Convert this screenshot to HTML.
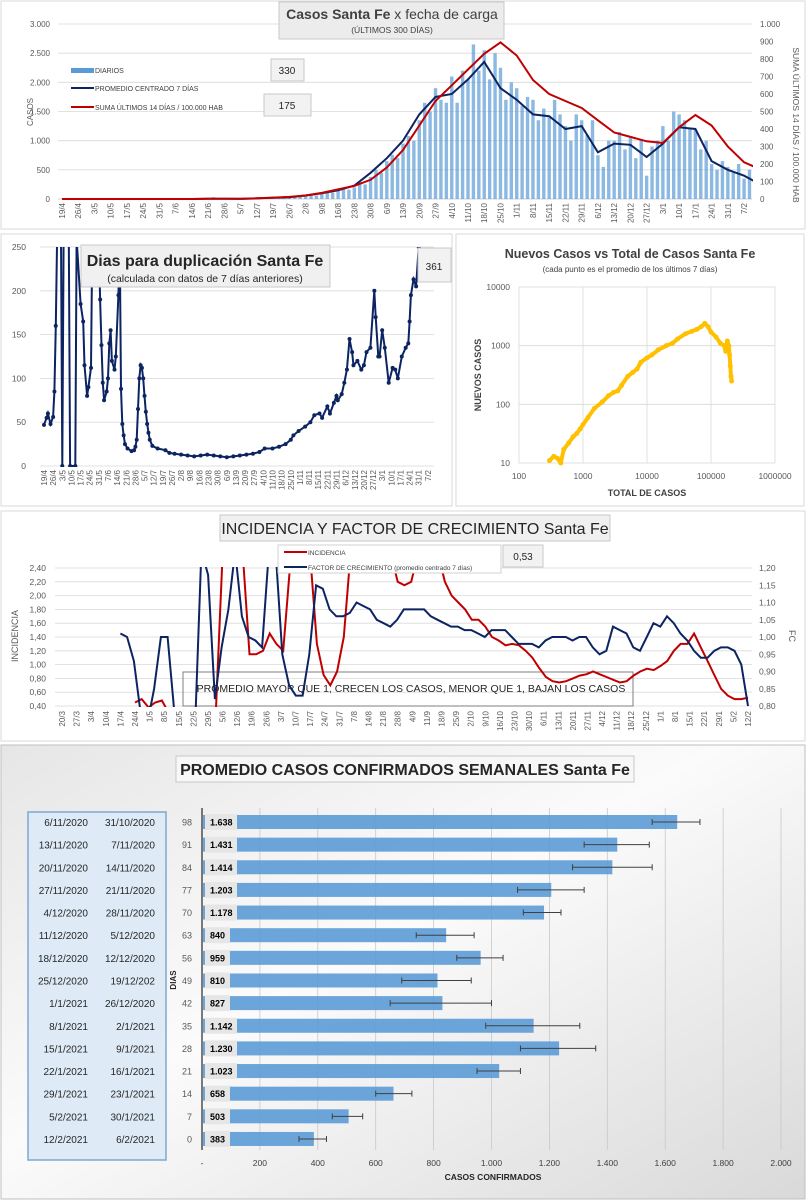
<!DOCTYPE html>
<html><head><meta charset="utf-8">
<style>
html,body{margin:0;padding:0;background:#fff;}
svg{display:block;font-family:"Liberation Sans Narrow","Liberation Sans",sans-serif;}
</style></head>
<body>
<svg id="s" width="806" height="1200" viewBox="0 0 806 1200" xmlns="http://www.w3.org/2000/svg">
<defs>
<linearGradient id="bg5" x1="0" y1="0" x2="1" y2="1">
<stop offset="0" stop-color="#e6e6e6"/><stop offset="0.45" stop-color="#fbfbfb"/><stop offset="1" stop-color="#d9d9d9"/>
</linearGradient>
<clipPath id="cp1"><rect x="58" y="20" width="695" height="180"/></clipPath>
<clipPath id="cp2"><rect x="40" y="247" width="400" height="220"/></clipPath>
<clipPath id="cp4"><rect x="55" y="567" width="697" height="140"/></clipPath>
</defs>
</svg>
<script>
// ---------- DATA ----------
const weekLabels1 = ["19/4","26/4","3/5","10/5","17/5","24/5","31/5","7/6","14/6","21/6","28/6","5/7","12/7","19/7","26/7","2/8","9/8","16/8","23/8","30/8","6/9","13/9","20/9","27/9","4/10","11/10","18/10","25/10","1/11","8/11","15/11","22/11","29/11","6/12","13/12","20/12","27/12","3/1","10/1","17/1","24/1","31/1","7/2"];
const leftTicks1 = ["0","500","1.000","1.500","2.000","2.500","3.000"];
const rightTicks1 = ["0","100","200","300","400","500","600","700","800","900","1.000"];
const dailyCases = [0,0,0, 0,0,0, 0,0,0, 0,0,0, 0,0,0, 0,0,0, 0,0,0, 0,0,0, 0,0,0, 10,30,5, 0,0,0, 0,0,0, 10,15,20, 20,25,30, 30,40,35, 50,70,60, 90,120,110, 140,170,160, 200,290,250, 380,500,450, 650,760,700, 950,1080,1000, 1350,1650,1500, 1900,1700,1650, 2100,1650,2200, 2050,2650,2200, 2550,2050,2500, 2250,1700,2000, 1900,1600,1750, 1700,1350,1550, 1400,1700,1450, 1250,1000,1450, 1350,1100,1350, 750,550,1000, 1000,1150,850, 1050,700,1000, 400,900,1000, 1250,1000,1500, 1450,1350,1200, 1200,850,1000, 600,500,650, 550,450,600, 350,500,300];
const avgCases = [0,0,0,0,0,0,0,0,0,5,3,2,10,20,30,60,100,150,230,450,700,1000,1450,1750,1800,2050,2350,1900,1700,1450,1420,1200,1250,800,950,930,720,950,1230,1200,650,500,400,250];
const sum14 = [0,0,0,0,0,0,0,0,0,2,2,2,4,8,12,20,35,55,75,110,180,280,420,560,650,740,830,895,820,680,600,560,520,450,380,355,330,320,410,480,420,300,210,170];

const dupDates = [0,2,3,5,7,8,9,10,12,13,14,15,19,20,24,25,28,30,31,33,34,36,37,42,43,44,45,46,48,49,50,51,52,54,55,57,58,59,60,61,62,64,67,69,70,71,72,73,74,75,76,77,78,79,80,81,83,87,93,96,100,105,110,115,120,125,130,135,140,145,150,155,160,165,169,175,180,185,189,191,195,200,204,207,211,213,217,219,222,224,225,228,230,232,234,236,237,240,243,245,247,250,253,254,256,257,259,261,264,267,269,271,274,277,279,280,281,283,285,287];
const dupDays = [47,55,60,48,56,85,160,260,260,260,0,260,260,0,0,260,185,165,115,80,90,112,260,260,190,138,95,75,85,100,140,155,120,110,125,195,260,88,48,35,25,20,17,18,22,30,65,100,115,112,100,80,62,48,38,30,23,20,18,15,14,13,12,11,12,13,12,11,10,11,12,13,14,16,20,20,22,25,30,35,40,45,50,58,60,55,68,60,72,80,75,82,95,110,145,130,115,120,110,115,130,135,200,170,125,125,155,135,95,112,110,100,125,135,140,165,195,213,205,250];
const dupTicks = ["0","50","100","150","200","250"];

const totalCases = [300,350,400,450,500,600,700,800,900,1000,1200,1500,2000,2500,3000,3500,4000,5000,6000,7000,8000,10000,12000,15000,20000,25000,30000,40000,50000,60000,70000,80000,90000,100000,120000,140000,160000,170000,180000,190000,195000,200000,205000,210000];
const newCases = [11,13,12,10,17,22,28,32,38,45,60,85,110,140,160,170,210,300,350,400,520,620,700,850,1000,1100,1300,1600,1750,1900,2100,2400,2100,1700,1400,1100,1000,800,1200,1000,700,450,300,250];
const logXTicks = ["100","1000","10000","100000","1000000"];
const logYTicks = ["10","100","1000","10000"];

const weekLabels4 = ["20/3","27/3","3/4","10/4","17/4","24/4","1/5","8/5","15/5","22/5","29/5","5/6","12/6","19/6","26/6","3/7","10/7","17/7","24/7","31/7","7/8","14/8","21/8","28/8","4/9","11/9","18/9","25/9","2/10","9/10","16/10","23/10","30/10","6/11","13/11","20/11","27/11","4/12","11/12","18/12","25/12","1/1","8/1","15/1","22/1","29/1","5/2","12/2"];
const incTicks = ["0,40","0,60","0,80","1,00","1,20","1,40","1,60","1,80","2,00","2,20","2,40"];
const fcTicks = ["0,80","0,85","0,90","0,95","1,00","1,05","1,10","1,15","1,20"];
const growthFactor = [1.01,1.0,0.93,0.78,0.75,0.85,1.0,1.0,0.78,0.7,0.7,0.7,1.25,1.18,0.82,0.97,1.08,1.25,1.06,1.0,0.99,0.97,1.25,1.25,0.95,0.86,0.83,0.83,0.95,1.15,1.14,1.08,1.06,1.06,1.07,1.1,1.09,1.08,1.05,1.04,1.03,1.05,1.08,1.08,1.08,1.08,1.06,1.05,1.04,1.03,1.03,1.02,1.02,1.01,1.0,1.02,1.02,1.02,1.0,0.98,0.98,0.98,0.97,0.99,1.0,1.0,1.0,0.99,1.0,1.0,0.97,0.95,0.96,1.03,1.02,1.01,0.97,0.96,1.0,1.04,1.03,1.06,1.04,1.01,0.99,0.96,0.94,0.94,0.96,0.97,0.97,0.96,0.92,0.8];
const incidence = [0.45,0.5,0.38,0.45,0.48,0.3,0.3,0.3,0.3,0.3,0.3,0.3,0.3,2.6,2.6,2.6,2.6,1.15,1.15,1.2,1.45,1.3,1.2,2.4,2.6,2.6,2.6,1.3,0.85,0.7,0.9,1.4,2.6,2.6,2.6,2.6,2.6,2.6,2.6,2.2,2.15,2.2,2.6,2.6,2.6,2.6,2.2,2.0,1.9,1.8,1.65,1.65,1.55,1.4,1.35,1.28,1.3,1.28,1.2,1.1,0.95,0.82,0.76,0.74,0.76,0.8,0.84,0.86,0.9,0.86,0.82,0.78,0.74,0.76,0.84,0.9,0.94,0.92,0.98,1.05,1.2,1.3,1.3,1.45,1.25,1.05,0.85,0.65,0.55,0.5,0.5,0.52];

const weekDays = ["98","91","84","77","70","63","56","49","42","35","28","21","14","7","0"];
const weekEnd = ["6/11/2020","13/11/2020","20/11/2020","27/11/2020","4/12/2020","11/12/2020","18/12/2020","25/12/2020","1/1/2021","8/1/2021","15/1/2021","22/1/2021","29/1/2021","5/2/2021","12/2/2021"];
const weekStart = ["31/10/2020","7/11/2020","14/11/2020","21/11/2020","28/11/2020","5/12/2020","12/12/2020","19/12/202","26/12/2020","2/1/2021","9/1/2021","16/1/2021","23/1/2021","30/1/2021","6/2/2021"];
const weeklyAvg = [1638,1431,1414,1203,1178,840,959,810,827,1142,1230,1023,658,503,383];
const weeklyLabel = ["1.638","1.431","1.414","1.203","1.178","840","959","810","827","1.142","1.230","1.023","658","503","383"];
const errLow = [1555,1320,1280,1090,1110,740,880,690,650,980,1100,950,600,450,335];
const errHigh = [1720,1545,1555,1320,1240,940,1040,930,1000,1305,1360,1100,725,555,430];
const barTicks = ["-","200","400","600","800","1.000","1.200","1.400","1.600","1.800","2.000"];

// ---------- helpers ----------
const S = document.getElementById('s');
const NS = 'http://www.w3.org/2000/svg';
function mk(tag, attrs, parent, txt){
  const e = document.createElementNS(NS, tag);
  for (const k in attrs) e.setAttribute(k, attrs[k]);
  if (txt !== undefined) e.textContent = txt;
  (parent || S).appendChild(e);
  return e;
}
function grp(name, clip){
  const g = mk('g', clip ? {'clip-path':'url(#'+clip+')'} : {});
  
  
  return g;
}
function pts(arr){ return arr.map(p => p[0].toFixed(1)+','+p[1].toFixed(1)).join(' '); }

// ---------- PANEL 1 ----------
const p1 = grp('cases-chart-panel');
mk('rect',{x:1,y:1,width:804,height:228,fill:'#fff',stroke:'#d9d9d9'},p1);
const x1 = d => 62 + d*(16.24/7);
const yL1 = v => 199 - v/3000*175;
const yR1 = v => 199 - v/1000*175;
const g1grid = grp('cases-gridlines');
leftTicks1.forEach((t,i)=>{
  const y = yL1(i*500);
  mk('line',{x1:58,x2:752,y1:y,y2:y,stroke:'#d9d9d9','stroke-width':0.8},g1grid);
  const tx = mk('text',{x:50,y:y+3,'font-size':8,fill:'#595959','text-anchor':'end'},g1grid,t);
  
  
});
rightTicks1.forEach((t,i)=>{
  const tx = mk('text',{x:760,y:yR1(i*100)+3,'font-size':8,fill:'#595959'},g1grid,t);
  
  
});
weekLabels1.forEach((t,i)=>{
  const x = x1(i*7);
  const tx = mk('text',{x:0,y:0,'font-size':8,fill:'#595959','text-anchor':'end',transform:`translate(${x+3},203) rotate(-90)`},g1grid,t);
  
  
});
const g1bars = grp('daily-bars','cp1');
dailyCases.forEach((v,i)=>{
  const x = x1(i*7/3);
  const b = mk('rect',{x:x-1.7,y:yL1(v),width:3.4,height:199-yL1(v),fill:'#5b9bd5','fill-opacity':0.7},g1bars);
  
  
});
const g1lines = grp('cases-lines','cp1');
let l = mk('polyline',{points:pts(avgCases.map((v,i)=>[x1(i*7),yL1(v)])),fill:'none',stroke:'#0c2461','stroke-width':2},g1lines);


l = mk('polyline',{points:pts(sum14.map((v,i)=>[x1(i*7),yR1(v)])),fill:'none',stroke:'#c00000','stroke-width':2},g1lines);


mk('line',{x1:58,x2:752,y1:199,y2:199,stroke:'#bfbfbf'},p1);
let t = mk('text',{x:0,y:0,'font-size':8,fill:'#595959','text-anchor':'middle',transform:'translate(33,112) rotate(-90)'},p1,'CASOS');


t = mk('text',{x:0,y:0,'font-size':8.5,fill:'#595959','text-anchor':'middle',transform:'translate(793,125) rotate(90)'},p1,'SUMA ÚLTIMOS 14 DÍAS / 100.000 HAB');


const tb1 = grp('cases-title');
mk('rect',{x:279,y:2,width:225,height:37,fill:'#ececec',stroke:'#c8c8c8'},tb1);
mk('text',{x:392,y:19,'font-size':14,fill:'#404040','text-anchor':'middle'},tb1).innerHTML='<tspan font-weight="bold">Casos Santa Fe</tspan> x fecha de carga';
mk('text',{x:392,y:33,'font-size':8.5,fill:'#404040','text-anchor':'middle'},tb1,'(ÚLTIMOS 300 DÍAS)');
const lg1 = grp('cases-legend');
mk('rect',{x:71,y:68,width:23,height:5,fill:'#5b9bd5'},lg1);
mk('text',{x:95,y:73,'font-size':7,fill:'#404040'},lg1,'DIARIOS');
mk('line',{x1:71,x2:94,y1:88,y2:88,stroke:'#0c2461','stroke-width':2},lg1);
mk('text',{x:95,y:91,'font-size':7,fill:'#404040'},lg1,'PROMEDIO CENTRADO 7 DÍAS');
mk('line',{x1:71,x2:94,y1:107,y2:107,stroke:'#c00000','stroke-width':2},lg1);
mk('text',{x:95,y:110,'font-size':7,fill:'#404040'},lg1,'SUMA ÚLTIMOS 14 DÍAS / 100.000 HAB');
const vb1 = grp('value-box-330');
mk('rect',{x:271,y:59,width:33,height:22,fill:'#f2f2f2',stroke:'#c8c8c8'},vb1);
mk('text',{x:287,y:74,'font-size':10,fill:'#262626','text-anchor':'middle'},vb1,'330');
const vb2 = grp('value-box-175');
mk('rect',{x:264,y:94,width:47,height:22,fill:'#f2f2f2',stroke:'#c8c8c8'},vb2);
mk('text',{x:287,y:109,'font-size':10,fill:'#262626','text-anchor':'middle'},vb2,'175');

// ---------- PANEL 2 ----------
const p2 = grp('doubling-chart-panel');
mk('rect',{x:1,y:234,width:451,height:272,fill:'#fff',stroke:'#d9d9d9'},p2);
const x2 = d => 44 + d*(9.14/7);
const y2 = v => 466 - v/250*219;
dupTicks.forEach((tk,i)=>{
  const y = y2(i*50);
  mk('line',{x1:40,x2:434,y1:y,y2:y,stroke:'#d9d9d9','stroke-width':0.8},p2);
  const tx = mk('text',{x:26,y:y+3,'font-size':8.5,fill:'#595959','text-anchor':'end'},p2,tk);
  
  
});
weekLabels1.forEach((tk,i)=>{
  const tx = mk('text',{x:0,y:0,'font-size':8,fill:'#595959','text-anchor':'end',transform:`translate(${x2(i*7)+3},470) rotate(-90)`},p2,tk);
  
  
});
const g2 = grp('doubling-days-series','cp2');
l = mk('polyline',{points:pts(dupDays.map((v,i)=>[x2(dupDates[i]),y2(v)])),fill:'none',stroke:'#0c2461','stroke-width':2},g2);


dupDays.forEach((v,i)=>{
  const c = mk('circle',{cx:x2(dupDates[i]),cy:y2(v),r:2,fill:'#0c2461'},g2);
  
  
});
const tb2 = grp('doubling-title');
mk('rect',{x:81,y:245,width:249,height:42,fill:'#f0f0f0',stroke:'#c8c8c8'},tb2);
mk('text',{x:205,y:266,'font-size':16,fill:'#262626','text-anchor':'middle','font-weight':'bold'},tb2,'Dias para duplicación Santa Fe');
mk('text',{x:205,y:282,'font-size':10.5,fill:'#262626','text-anchor':'middle'},tb2,'(calculada con datos de 7 días anteriores)');
const vb3 = grp('value-box-361');
mk('rect',{x:418,y:248,width:33,height:34,fill:'#f2f2f2',stroke:'#c8c8c8'},vb3);
mk('text',{x:434,y:270,'font-size':10,fill:'#262626','text-anchor':'middle'},vb3,'361');

// ---------- PANEL 3 ----------
const p3 = grp('scatter-chart-panel');
mk('rect',{x:456,y:234,width:348,height:272,fill:'#fff',stroke:'#d9d9d9'},p3);
const x3 = v => 519 + (Math.log10(v)-2)/4*256;
const y3 = v => 463 - (Math.log10(v)-1)/3*176;
logXTicks.forEach((tk,i)=>{
  const x = x3(Math.pow(10,i+2));
  mk('line',{x1:x,x2:x,y1:287,y2:463,stroke:'#d9d9d9','stroke-width':0.8},p3);
  const tx = mk('text',{x:x,y:479,'font-size':8.5,fill:'#595959','text-anchor':'middle'},p3,tk);
  
  
});
logYTicks.forEach((tk,i)=>{
  const y = y3(Math.pow(10,i+1));
  mk('line',{x1:519,x2:775,y1:y,y2:y,stroke:'#d9d9d9','stroke-width':0.8},p3);
  const tx = mk('text',{x:510,y:y+3,'font-size':8.5,fill:'#595959','text-anchor':'end'},p3,tk);
  
  
});
const g3 = grp('scatter-series');
l = mk('polyline',{points:pts(totalCases.map((v,i)=>[x3(v),y3(newCases[i])])),fill:'none',stroke:'#ffc000','stroke-width':4,'stroke-linejoin':'round'},g3);


totalCases.forEach((v,i)=>{
  const c = mk('circle',{cx:x3(v),cy:y3(newCases[i]),r:2.5,fill:'#ffc000'},g3);
  
  
});
t = mk('text',{x:630,y:258,'font-size':12.5,fill:'#404040','text-anchor':'middle','font-weight':'bold'},p3,'Nuevos Casos vs Total de Casos Santa Fe');


t = mk('text',{x:630,y:272,'font-size':8,fill:'#404040','text-anchor':'middle'},p3,'(cada punto es el promedio de los últimos 7 días)');


t = mk('text',{x:647,y:496,'font-size':9,fill:'#404040','text-anchor':'middle','font-weight':'bold'},p3,'TOTAL DE CASOS');


t = mk('text',{x:0,y:0,'font-size':9,fill:'#404040','text-anchor':'middle','font-weight':'bold',transform:'translate(481,375) rotate(-90)'},p3,'NUEVOS CASOS');



// ---------- PANEL 4 ----------
const p4 = grp('incidence-chart-panel');
mk('rect',{x:1,y:511,width:804,height:230,fill:'#fff',stroke:'#d9d9d9'},p4);
const x4 = i => 62 + i*(686/47);
const yInc = v => 706 - (v-0.4)/2*138;
const yFc = v => 706 - (v-0.8)/0.4*138;
incTicks.forEach((tk,i)=>{
  const y = yInc(0.4+i*0.2);
  mk('line',{x1:55,x2:752,y1:y,y2:y,stroke:'#d9d9d9','stroke-width':0.8},p4);
  const tx = mk('text',{x:46,y:y+3,'font-size':8.5,fill:'#595959','text-anchor':'end'},p4,tk);
  
  
});
fcTicks.forEach((tk,i)=>{
  const tx = mk('text',{x:759,y:yFc(0.8+i*0.05)+3,'font-size':8.5,fill:'#595959'},p4,tk);
  
  
});
weekLabels4.forEach((tk,i)=>{
  const tx = mk('text',{x:0,y:0,'font-size':8,fill:'#595959','text-anchor':'end',transform:`translate(${x4(i)+3},711) rotate(-90)`},p4,tk);
  
  
});
const ann = grp('annotation-box');
mk('rect',{x:183,y:672,width:450,height:34,fill:'none',stroke:'#7f7f7f'},ann);
mk('text',{x:411,y:692,'font-size':10.5,fill:'#262626','text-anchor':'middle'},ann,'PROMEDIO MAYOR QUE 1, CRECEN LOS CASOS, MENOR QUE 1, BAJAN LOS CASOS');
const g4 = grp('incidence-series','cp4');
const fcStart = x4(4), incStart = x4(5), endX = x4(47);
l = mk('polyline',{points:pts(incidence.map((v,i)=>[incStart+i*(endX-incStart)/(incidence.length-1),yInc(v)])),fill:'none',stroke:'#c00000','stroke-width':2},g4);


l = mk('polyline',{points:pts(growthFactor.map((v,i)=>[fcStart+i*(endX-fcStart)/(growthFactor.length-1),yFc(v)])),fill:'none',stroke:'#0c2461','stroke-width':2},g4);


t = mk('text',{x:0,y:0,'font-size':9,fill:'#595959','text-anchor':'middle',transform:'translate(18,636) rotate(-90)'},p4,'INCIDENCIA');


t = mk('text',{x:0,y:0,'font-size':9,fill:'#595959','text-anchor':'middle',transform:'translate(789,636) rotate(90)'},p4,'FC');


const tb4 = grp('incidence-title');
mk('rect',{x:220,y:515,width:390,height:26,fill:'#f0f0f0',stroke:'#c8c8c8'},tb4);
mk('text',{x:415,y:534,'font-size':16,fill:'#262626','text-anchor':'middle'},tb4,'INCIDENCIA Y FACTOR DE CRECIMIENTO Santa Fe');
const lg4 = grp('incidence-legend');
mk('rect',{x:278,y:545,width:223,height:28,fill:'#fff',stroke:'#d0d0d0'},lg4);
mk('line',{x1:284,x2:307,y1:552,y2:552,stroke:'#c00000','stroke-width':2},lg4);
mk('text',{x:308,y:555,'font-size':6.5,fill:'#404040'},lg4,'INCIDENCIA');
mk('line',{x1:284,x2:307,y1:567,y2:567,stroke:'#0c2461','stroke-width':2},lg4);
mk('text',{x:308,y:570,'font-size':6.5,fill:'#404040'},lg4,'FACTOR DE CRECIMIENTO (promedio centrado 7 días)');
const vb4 = grp('value-box-053');
mk('rect',{x:503,y:545,width:40,height:22,fill:'#f2f2f2',stroke:'#c8c8c8'},vb4);
mk('text',{x:523,y:560,'font-size':10,fill:'#262626','text-anchor':'middle'},vb4,'0,53');

// ---------- PANEL 5 ----------
const p5 = grp('weekly-bar-panel');
mk('rect',{x:1,y:745,width:804,height:454,fill:'url(#bg5)',stroke:'#bfbfbf'},p5);
const x5 = v => 202 + v/2000*579;
const y5 = i => 822 + i*22.64;
barTicks.forEach((tk,i)=>{
  const x = x5(i*200);
  if (i>0) mk('line',{x1:x,x2:x,y1:808,y2:1150,stroke:'#c8c8c8','stroke-width':0.8},p5);
  const tx = mk('text',{x:x,y:1166,'font-size':8.5,fill:'#404040','text-anchor':'middle'},p5,tk);
  
  
});
mk('line',{x1:202,x2:202,y1:808,y2:1150,stroke:'#262626','stroke-width':1.2},p5);
const tb5 = grp('weekly-title');
mk('rect',{x:176,y:756,width:458,height:26,fill:'#f7f7f7',stroke:'#c8c8c8'},tb5);
mk('text',{x:405,y:775,'font-size':16,fill:'#262626','text-anchor':'middle','font-weight':'bold'},tb5,'PROMEDIO CASOS CONFIRMADOS SEMANALES Santa Fe');
const tbl = grp('date-range-table');
mk('rect',{x:28,y:812,width:138,height:348,fill:'#deebf7',stroke:'#7ea7d0','stroke-width':1.5},tbl);
const g5 = grp('weekly-bars');
weeklyAvg.forEach((v,i)=>{
  const y = y5(i);
  const b = mk('rect',{x:x5(0)+1,y:y-7,width:x5(v)-x5(0),height:14,fill:'#5b9bd5',opacity:0.9},g5);
  
  
  const lb = mk('rect',{x:205,y:y-8,width:v>=1000?32:25,height:16,fill:'#e6e6e6'},g5);
  
  
  const vt = mk('text',{x:210,y:y+3.5,'font-size':9,fill:'#000','font-weight':'bold'},g5,weeklyLabel[i]);
  
  
  const e = mk('path',{d:`M${x5(errLow[i])},${y} H${x5(errHigh[i])} M${x5(errLow[i])},${y-3} v6 M${x5(errHigh[i])},${y-3} v6`,stroke:'#404040','stroke-width':1,fill:'none'},g5);
  
  
  const dt = mk('text',{x:192,y:y+3.5,'font-size':9,fill:'#595959','text-anchor':'end'},g5,weekDays[i]);
  
  
  const a = mk('text',{x:88,y:y+4,'font-size':10,fill:'#262626','text-anchor':'end'},tbl,weekEnd[i]);
  
  
  const b2 = mk('text',{x:155,y:y+4,'font-size':10,fill:'#262626','text-anchor':'end'},tbl,weekStart[i]);
  
  
});
t = mk('text',{x:493,y:1180,'font-size':8.5,fill:'#262626','text-anchor':'middle','font-weight':'bold'},p5,'CASOS CONFIRMADOS');


t = mk('text',{x:0,y:0,'font-size':8,fill:'#262626','text-anchor':'middle','font-weight':'bold',transform:'translate(176,980) rotate(-90)'},p5,'DIAS');


</script>
</body></html>
